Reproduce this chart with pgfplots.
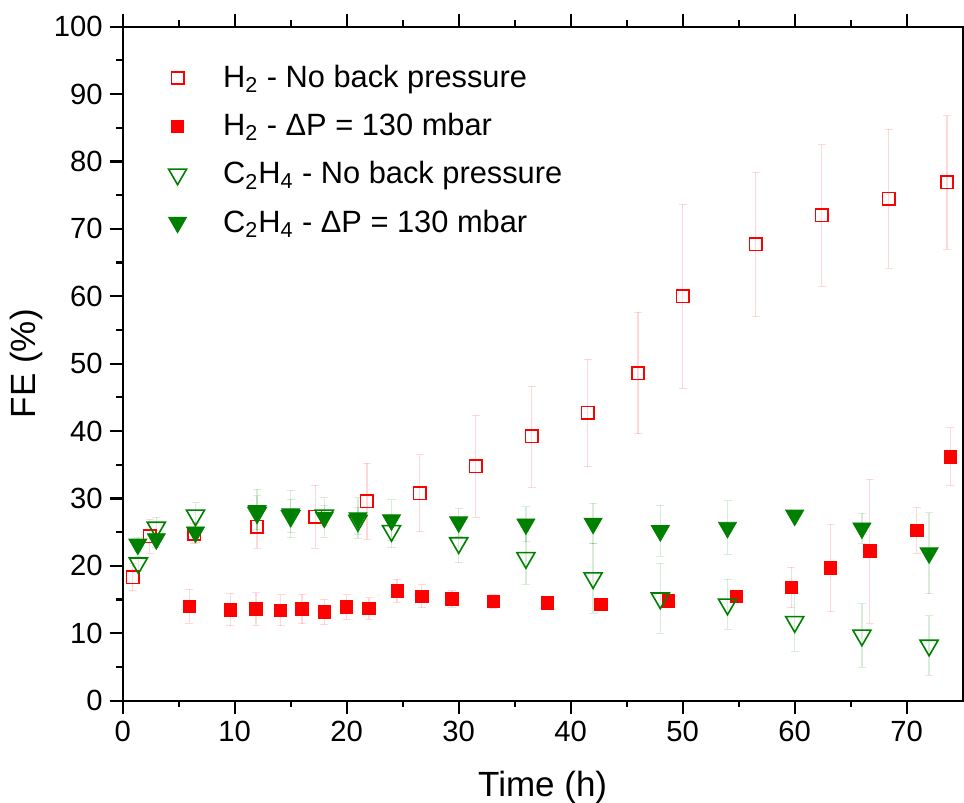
\documentclass[border=0pt]{standalone}
\usepackage{fontspec}
\setmainfont{Liberation Sans}
\usepackage{pgfplots}
\pgfplotsset{compat=1.18}

\definecolor{fgreen}{RGB}{0,128,0}

% columns: time (h), FE (%), error
\pgfplotstableread{
x y e
0.9 18.3 2.0
2.4 24.4 2.5
6.4 24.8 1.5
12.0 25.8 3.2
17.2 27.3 4.7
21.8 29.6 5.6
26.5 30.8 5.7
31.5 34.8 7.6
36.5 39.2 7.5
41.5 42.7 8.0
46.0 48.6 9.0
50.0 60.0 13.7
56.5 67.7 10.7
62.4 72.0 10.5
68.4 74.5 10.3
73.6 76.9 9.9
}\hopen
\pgfplotstableread{
x y e
5.95 14.0 2.5
9.6 13.5 2.4
11.9 13.6 2.4
14.1 13.4 2.3
16.0 13.6 2.2
18.0 13.2 1.9
20.0 13.9 1.8
22.0 13.7 1.6
24.5 16.3 1.7
26.7 15.5 1.7
29.4 15.1 1.2
33.1 14.7 1.0
37.9 14.5 0.6
42.7 14.3 0.6
48.7 14.8 0.6
54.8 15.5 0.6
59.7 16.8 3.0
63.2 19.7 6.5
66.7 22.2 10.7
70.9 25.3 3.4
73.9 36.2 4.3
}\hfull
\pgfplotstableread{
x y e
1.4 20.4 1.0
3.0 25.7 1.5
6.5 27.5 1.9
12.0 27.9 2.5
15.0 27.4 2.5
18.0 27.5 1.5
21.0 26.7 2.0
24.0 25.2 2.5
30.0 23.4 2.9
36.0 21.2 3.9
42.0 18.2 5.2
48.0 15.2 5.2
54.0 14.3 3.7
60.0 11.7 4.4
66.0 9.7 4.7
72.0 8.2 4.4
}\copen
\pgfplotstableread{
x y e
1.35 23.2 1.0
3.0 24.0 1.3
6.5 25.0 1.5
12.0 28.2 3.2
15.0 27.7 3.5
18.0 27.2 2.9
21.0 27.1 3.0
24.0 26.8 3.0
30.0 26.5 2.1
36.0 26.2 2.6
42.0 26.3 3.0
48.0 25.2 3.8
54.0 25.7 4.0
60.0 27.5 0.5
66.0 25.6 2.2
72.0 21.9 6.0
}\cfull

\begin{document}
\begin{tikzpicture}
\begin{axis}[
    scale only axis,
    width=420pt, height=337pt,
    xmin=0, xmax=75, ymin=0, ymax=100,
    xtick={0,10,...,70}, ytick={0,10,...,100},
    minor x tick num=1, minor y tick num=1,
    tick align=outside, tick pos=both,
    major tick length=6.5pt, minor tick length=3.2pt,
    axis line style={line width=1.1pt},
    every tick/.style={black, line width=1.1pt},
    /pgf/number format/assume math mode=true,
    tick label style={font=\fontsize{14.6}{16}\selectfont},
    xlabel={Time (h)}, ylabel={FE (\%)},
    label style={font=\fontsize{17.5}{20}\selectfont},
    xlabel style={at={(axis description cs:0.5,0)}, anchor=base, yshift=-48pt},
    ylabel style={at={(axis description cs:-0.115,0.5)}, anchor=center},
    legend cell align=left,
    legend image code/.code={
        \draw[mark repeat=2,mark phase=2,#1] plot coordinates {(0cm,0cm) (0.3cm,0cm) (0.6cm,0cm)};
        \path (0.6cm+12pt,0pt);},
    legend style={draw=none, fill=none, at={(axis description cs:0.047,0.955)},
        anchor=north west, font=\fontsize{15.4}{17}\selectfont, row sep=7.4pt},
    error bars/y dir=both, error bars/y explicit,
]
\addplot[only marks, mark=square, mark size=3.1pt, red, mark options={line width=0.8pt},
    error bars/error bar style={red, opacity=0.15, line width=0.7pt},
    error bars/error mark options={rotate=90, mark size=2pt, red, opacity=0.15}]
    table[x=x, y=y, y error=e] {\hopen};
\addlegendentry{H\textsubscript{2} - No back pressure}
\addplot[only marks, mark=square*, mark size=3.1pt, red,
    error bars/error bar style={red, opacity=0.15, line width=0.7pt},
    error bars/error mark options={rotate=90, mark size=2pt, red, opacity=0.15}]
    table[x=x, y=y, y error=e] {\hfull};
\addlegendentry{H\textsubscript{2} - ΔP = 130 mbar}
\addplot[only marks, mark=triangle, mark size=5.2pt, fgreen, mark options={rotate=180, line width=0.8pt},
    error bars/error bar style={fgreen, opacity=0.15, line width=0.7pt},
    error bars/error mark options={rotate=90, mark size=2pt, fgreen, opacity=0.15}]
    table[x=x, y=y, y error=e] {\copen};
\addlegendentry{C\textsubscript{2}H\textsubscript{4} - No back pressure}
\addplot[only marks, mark=triangle*, mark size=5.2pt, fgreen, mark options={rotate=180},
    error bars/error bar style={fgreen, opacity=0.15, line width=0.7pt},
    error bars/error mark options={rotate=90, mark size=2pt, fgreen, opacity=0.15}]
    table[x=x, y=y, y error=e] {\cfull};
\addlegendentry{C\textsubscript{2}H\textsubscript{4} - ΔP = 130 mbar}
\end{axis}
\pgfresetboundingbox
\path (-61.35pt,-51.15pt) rectangle (420.65pt,350.35pt);
\end{tikzpicture}
\end{document}
